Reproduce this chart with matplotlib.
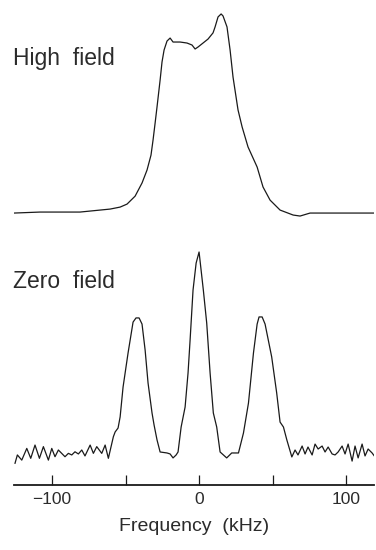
import matplotlib.pyplot as plt

# High field spectrum (frequency in kHz, intensity in arbitrary units)
high_freq = [-125.9, -108.2, -81.0, -60.5, -53.7, -49.0, -43.5, -38.8, -35.4, -32.7,
             -31.3, -29.9, -28.6, -26.5, -25.2, -23.8, -21.8, -19.7, -17.7, -12.9,
             -8.2, -4.8, -2.7, -0.7, 2.7, 6.1, 9.5, 10.9, 12.9, 15.0,
             16.3, 19.0, 21.1, 23.1, 26.5, 29.3, 33.3, 39.5, 43.5, 48.3,
             55.1, 64.0, 68.7, 75.5, 82.3, 95.9, 119.5]
high_int = [0.0, 0.5, 0.5, 2.0, 3.0, 4.5, 8.5, 15.1, 21.6, 29.1,
            36.7, 45.2, 53.3, 66.8, 75.9, 81.9, 86.4, 87.9, 85.9, 85.9,
            85.4, 84.4, 82.4, 83.4, 85.4, 87.4, 90.5, 93.5, 98.5, 100.0,
            99.0, 93.5, 81.9, 68.3, 51.8, 43.2, 33.2, 23.1, 13.1, 6.5,
            1.5, -1.0, -1.5, 0.0, 0.0, 0.0, 0.0]

# Zero field spectrum
zero_freq = [-125.2, -123.6, -120.6, -117.2, -114.5, -111.6, -108.6, -105.9, -102.5, -100.2,
             -98.0, -95.7, -91.2, -88.9, -86.6, -84.4, -82.1, -79.8, -77.6, -74.1,
             -71.9, -69.6, -66.2, -63.9, -61.7, -58.3, -57.1, -55.1, -53.7, -51.7,
             -48.3, -44.9, -42.9, -40.8, -38.8, -36.7, -34.7, -32.0, -30.6, -28.6,
             -26.5, -21.8, -19.7, -17.7, -15.6, -14.3, -12.2, -9.5, -7.5, -6.1,
             -4.1, -2.0, 0.0, 2.9, 5.2, 7.5, 9.7, 12.0, 14.3, 18.8,
             22.2, 26.8, 30.2, 33.6, 37.0, 39.5, 40.8, 42.9, 44.9, 49.4,
             52.8, 55.1, 57.4, 59.7, 63.1, 65.3, 67.3, 70.1, 72.1, 74.1,
             76.9, 78.9, 81.0, 83.7, 85.7, 87.8, 90.5, 92.5, 94.6, 97.3,
             99.3, 101.4, 104.1, 106.1, 108.2, 110.9, 112.9, 115.0, 117.7, 119.7]
zero_int = [-6.7, -2.5, -5.1, 0.8, -4.2, 2.5, -4.2, 1.7, -5.1, 0.8,
            -3.4, 0.0, -3.4, -1.7, -2.5, -0.9, -2.0, 0.0, -3.0, 2.5,
            -1.7, 1.7, -1.7, 2.5, -4.2, 6.7, 9.1, 11.1, 16.7, 31.8,
            49.0, 64.6, 66.7, 66.7, 63.6, 50.5, 33.8, 18.7, 12.6, 5.1,
            -1.0, -1.5, -2.0, -4.0, -2.5, -1.0, 11.6, 21.7, 38.9, 55.6,
            80.8, 94.4, 100.0, 80.8, 64.1, 38.9, 18.7, 11.6, -1.0, -4.0,
            -1.5, -1.5, 8.6, 23.7, 49.0, 63.6, 67.2, 67.2, 63.6, 47.0,
            28.8, 14.1, 11.6, 5.1, -3.5, 0.0, -2.5, 2.0, -2.0, 1.5,
            -2.5, 3.0, 0.5, 2.0, -1.0, 1.5, -2.0, -2.5, -1.0, 2.0,
            -2.0, 3.0, -5.6, 2.0, -4.0, 3.0, -3.0, 0.5, -1.5, -3.5]

tick_pos = [-100, -50, 0, 50, 100]
tick_labels = ['\u2212100', '', '0', '', '100']

plt.rcParams['font.family'] = ['Liberation Sans', 'DejaVu Sans']

fig = plt.figure(figsize=(3.76, 5.5), dpi=100)
xlim = (-125.9, 119.0)
line_color = '#1a1a1a'
text_color = '#2b2b2b'

# top panel
ax1 = fig.add_axes([0.0372, 1 - 225 / 550, 0.9575, 220 / 550])
ax1.plot(high_freq, high_int, color=line_color, lw=0.9, solid_joinstyle='round')
ax1.set_xlim(*xlim)
ax1.set_ylim(-6.0, 104.5)
ax1.axis('off')

# bottom panel with frequency axis
ax2 = fig.add_axes([0.0372, 1 - 485 / 550, 0.9575, 245 / 550])
ax2.plot(zero_freq, zero_int, color=line_color, lw=0.9, solid_joinstyle='round')
ax2.set_xlim(*xlim)
ax2.set_ylim((450 - 485) / 1.98, (450 - 240) / 1.98)
for s in ['top', 'left', 'right']:
    ax2.spines[s].set_visible(False)
ax2.spines['bottom'].set_linewidth(1.3)
ax2.spines['bottom'].set_color(line_color)
ax2.set_yticks([])
ax2.set_xticks(tick_pos)
ax2.set_xticklabels(tick_labels, fontsize=12.5, color=text_color)
ax2.tick_params(axis='x', direction='in', length=7, width=0.9, pad=5, color=line_color)
ax2.set_xlabel('Frequency  (kHz)', fontsize=14, labelpad=8, color=text_color)

fig.text(0.035, 1 - 58 / 550, 'High  field', fontsize=16.5, va='center', ha='left', color=text_color)
fig.text(0.035, 1 - 281 / 550, 'Zero  field', fontsize=16.5, va='center', ha='left', color=text_color)

fig.savefig('out.png', dpi=100)
